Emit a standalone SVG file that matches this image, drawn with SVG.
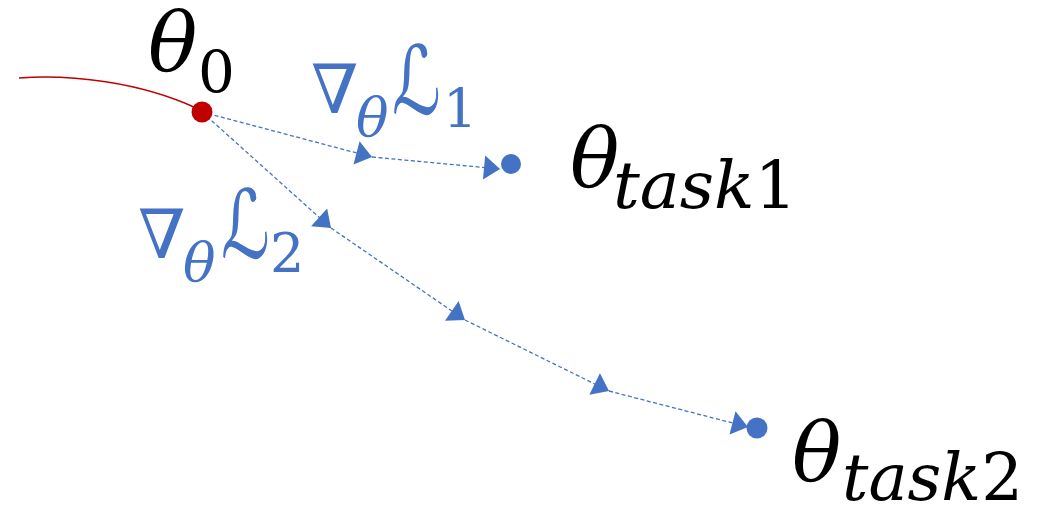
<svg xmlns="http://www.w3.org/2000/svg" width="1048" height="508" viewBox="0 0 1048 508">
<style>
.conn{fill:none;stroke:#4472C4;stroke-width:1.3;stroke-dasharray:4 2.5;marker-end:url(#tri)}
.math{font-family:"DejaVu Serif","DejaVu Sans",serif;font-style:italic}
.black{fill:#000}
.blue{fill:#4472C4}
.up{font-style:normal}
</style>
<defs>
<marker id="tri" markerUnits="userSpaceOnUse" markerWidth="20" markerHeight="28" refX="16" refY="12" orient="auto" overflow="visible">
<path d="M0,0 L16,12 L0,24 Z" fill="#4472C4"/>
</marker>
</defs>
<rect width="1048" height="508" fill="#fff"/>
<g id="connectors">
<path d="M19,78 C70,74 140,82 196,108" fill="none" stroke="#C00000" stroke-width="1.5"/>
<line class="conn" x1="202" y1="112" x2="372" y2="157"/>
<line class="conn" x1="372" y1="157" x2="500" y2="169"/>
<line class="conn" x1="202" y1="112" x2="331" y2="228"/>
<line class="conn" x1="331" y1="228" x2="465" y2="320"/>
<line class="conn" x1="465" y1="320" x2="609" y2="391"/>
<line class="conn" x1="609" y1="391" x2="748" y2="427"/>
</g>
<g id="theta0">
<circle cx="202" cy="112" r="10.5" fill="#C00000"/>
<text class="math black" x="148" y="71" font-size="82">θ</text>
<text class="math black up" x="198" y="92" font-size="58">0</text>
</g>
<g id="task1">
<circle cx="511" cy="164" r="10" fill="#4472C4"/>
<text class="math black" x="570" y="187" font-size="82">θ</text>
<text class="math black" x="613" y="208" font-size="66" textLength="184" lengthAdjust="spacingAndGlyphs">task<tspan class="up">1</tspan></text>
</g>
<g id="task2">
<circle cx="757" cy="428" r="10.5" fill="#4472C4"/>
<text class="math black" x="792" y="481" font-size="82">θ</text>
<text class="math black" x="842" y="500" font-size="66" textLength="181" lengthAdjust="spacingAndGlyphs">task<tspan class="up">2</tspan></text>
</g>
<g id="label1">
<text class="math blue up" x="311" y="113" font-size="68">∇</text>
<text class="math blue" x="356" y="136" font-size="54">θ</text>
<text class="math blue" transform="translate(392,114) scale(0.8,1.12)" font-size="85">ℒ</text>
<text class="math blue up" x="443" y="128" font-size="54">1</text>
</g>
<g id="label2">
<text class="math blue up" x="138" y="258" font-size="68">∇</text>
<text class="math blue" x="183" y="281" font-size="54">θ</text>
<text class="math blue" transform="translate(221,258) scale(0.8,1.12)" font-size="85">ℒ</text>
<text class="math blue up" x="270" y="272" font-size="54">2</text>
</g>
</svg>
